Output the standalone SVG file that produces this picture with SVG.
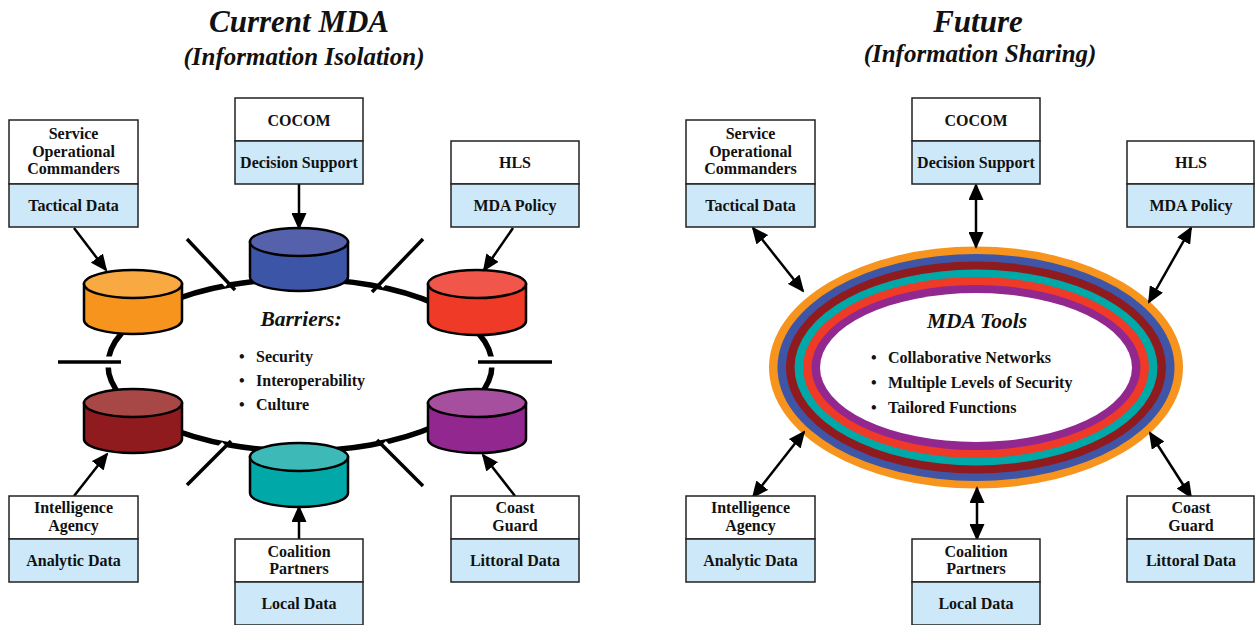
<svg xmlns="http://www.w3.org/2000/svg" width="1255" height="625" viewBox="0 0 1255 625">
<style>
text{font-family:"Liberation Serif","Times New Roman",serif;font-weight:bold;fill:#111;}
.title{font-style:italic;font-size:31px;text-anchor:middle;}
.sub{font-style:italic;font-size:25px;text-anchor:middle;}
.lbl{font-size:16px;text-anchor:middle;}
.head{font-style:italic;font-size:21.5px;text-anchor:middle;}
.bul{font-size:16px;}
.top{fill:#fff;stroke:#222;stroke-width:1.5;}
.bot{fill:#CDE9F9;stroke:#222;stroke-width:1.5;}
.cyl{stroke:#000;stroke-width:2.5;}
.ring{fill:none;stroke:#000;stroke-width:5.5;}
.gap{stroke:#fff;stroke-width:11;}
.bar{stroke:#000;stroke-width:3.5;}
.arr{stroke:#000;stroke-width:2.5;fill:none;marker-end:url(#ah);}
.arr2{stroke:#000;stroke-width:2.5;fill:none;marker-end:url(#ah);marker-start:url(#ah);}
</style>
<defs>
<marker id="ah" markerUnits="userSpaceOnUse" markerWidth="17" markerHeight="15" refX="15" refY="7.5" orient="auto-start-reverse">
<path d="M0,0 L17,7.5 L0,15 Z" fill="#000"/>
</marker>
</defs>
<rect width="1255" height="625" fill="#fff"/>

<!-- Titles -->
<g id="titles">
<text class="title" x="299" y="32">Current MDA</text>
<text class="sub" x="304" y="65">(Information Isolation)</text>
<text class="title" x="978" y="32">Future</text>
<text class="sub" x="980" y="62">(Information Sharing)</text>
</g>

<!-- Left ring -->
<g id="ring-left">
<ellipse class="ring" cx="300" cy="365" rx="192" ry="86"/>
</g>

<!-- Right ring -->
<g id="ring-right">
<ellipse cx="976" cy="367.5" rx="207" ry="121" fill="#F7941E"/>
<ellipse cx="976" cy="367.5" rx="198.5" ry="113.5" fill="#3F55A5"/>
<ellipse cx="976" cy="367.5" rx="190" ry="106" fill="#8F1B1E"/>
<ellipse cx="976" cy="367.5" rx="181.5" ry="98" fill="#00A9A8"/>
<ellipse cx="976" cy="367.5" rx="173" ry="90.5" fill="#EE3A26"/>
<ellipse cx="976" cy="367.5" rx="164.5" ry="82.5" fill="#92278F"/>
<ellipse cx="976" cy="367.5" rx="156" ry="74.5" fill="#fff"/>
<text class="head" x="977" y="328">MDA Tools</text>
<text class="bul" x="871" y="363">•</text><text class="bul" x="888" y="363">Collaborative Networks</text>
<text class="bul" x="871" y="388">•</text><text class="bul" x="888" y="388">Multiple Levels of Security</text>
<text class="bul" x="871" y="413">•</text><text class="bul" x="888" y="413">Tailored Functions</text>
</g>

<!-- Barrier text -->
<g id="barriers-text">
<text class="head" x="301" y="326">Barriers:</text>
<text class="bul" x="239" y="362">•</text><text class="bul" x="256" y="362">Security</text>
<text class="bul" x="239" y="386">•</text><text class="bul" x="256" y="386">Interoperability</text>
<text class="bul" x="239" y="410">•</text><text class="bul" x="256" y="410">Culture</text>
</g>

<!-- Barriers -->
<g id="barriers">
<line class="gap" x1="195" y1="247" x2="229" y2="283"/>
<line class="bar" x1="187" y1="239" x2="235" y2="290"/>
<line class="gap" x1="379" y1="284" x2="416" y2="246"/>
<line class="bar" x1="372" y1="292" x2="423" y2="239"/>
<line class="gap" x1="95" y1="362" x2="121" y2="362"/>
<line class="bar" x1="58" y1="362" x2="121" y2="362"/>
<line class="gap" x1="478" y1="362" x2="510" y2="362"/>
<line class="bar" x1="478" y1="362" x2="552" y2="362"/>
<line class="gap" x1="195" y1="477" x2="226" y2="446"/>
<line class="bar" x1="187" y1="485" x2="231" y2="441"/>
<line class="gap" x1="382" y1="445" x2="417" y2="480"/>
<line class="bar" x1="377" y1="440" x2="423" y2="486"/>
</g>

<!-- Cylinders -->
<g id="cyl-orange">
<path class="cyl" fill="#F7941E" d="M84,284 L84,320 A49,14 0 0 0 182,320 L182,284 Z"/>
<ellipse class="cyl" cx="133" cy="284" rx="49" ry="14" fill="#F9A942"/>
</g>
<g id="cyl-blue">
<path class="cyl" fill="#3D55A6" d="M250,242 L250,277 A49,14 0 0 0 348,277 L348,242 Z"/>
<ellipse class="cyl" cx="299" cy="242" rx="49" ry="14" fill="#5661AC"/>
</g>
<g id="cyl-red">
<path class="cyl" fill="#EE3A26" d="M428,284 L428,321 A49,14 0 0 0 526,321 L526,284 Z"/>
<ellipse class="cyl" cx="477" cy="284" rx="49" ry="14" fill="#F0564A"/>
</g>
<g id="cyl-darkred">
<path class="cyl" fill="#8F1B1E" d="M84,403 L84,439 A49,14 0 0 0 182,439 L182,403 Z"/>
<ellipse class="cyl" cx="133" cy="403" rx="49" ry="14" fill="#A84846"/>
</g>
<g id="cyl-teal">
<path class="cyl" fill="#00A9A8" d="M250,457 L250,493 A49,14 0 0 0 348,493 L348,457 Z"/>
<ellipse class="cyl" cx="299" cy="457" rx="49" ry="14" fill="#3DBAB8"/>
</g>
<g id="cyl-purple">
<path class="cyl" fill="#92278F" d="M428,403 L428,439 A49,14 0 0 0 526,439 L526,403 Z"/>
<ellipse class="cyl" cx="477" cy="403" rx="49" ry="14" fill="#A64F9E"/>
</g>

<!-- Connectors -->
<g id="connectors">
<line class="arr" x1="74" y1="228" x2="106" y2="270"/>
<line class="arr" x1="299" y1="184" x2="299" y2="228"/>
<line class="arr" x1="513" y1="228" x2="484" y2="270"/>
<line class="arr" x1="74" y1="496" x2="107" y2="454"/>
<line class="arr" x1="299" y1="539" x2="299" y2="507"/>
<line class="arr" x1="515" y1="496" x2="483" y2="455"/>
<line class="arr2" x1="753" y1="228" x2="803" y2="291"/>
<line class="arr2" x1="976" y1="185" x2="976" y2="247"/>
<line class="arr2" x1="1191" y1="228" x2="1149" y2="302"/>
<line class="arr2" x1="753" y1="497" x2="804" y2="432"/>
<line class="arr2" x1="977" y1="539" x2="977" y2="488"/>
<line class="arr2" x1="1191" y1="497" x2="1150" y2="433"/>
</g>

<!-- Left boxes -->
<g id="L-service">
<rect class="top" x="9" y="120" width="129" height="64"/>
<rect class="bot" x="9" y="184" width="129" height="43"/>
<text class="lbl" x="73.5" y="139">Service</text>
<text class="lbl" x="73.5" y="157">Operational</text>
<text class="lbl" x="73.5" y="174">Commanders</text>
<text class="lbl" x="73.5" y="211">Tactical Data</text>
</g>
<g id="L-cocom">
<rect class="top" x="235" y="98" width="128" height="43"/>
<rect class="bot" x="235" y="141" width="128" height="43"/>
<text class="lbl" x="299" y="126">COCOM</text>
<text class="lbl" x="299" y="168">Decision Support</text>
</g>
<g id="L-hls">
<rect class="top" x="451" y="141" width="128" height="43"/>
<rect class="bot" x="451" y="184" width="128" height="43"/>
<text class="lbl" x="515" y="168">HLS</text>
<text class="lbl" x="515" y="211">MDA Policy</text>
</g>
<g id="L-intel">
<rect class="top" x="9" y="496" width="129" height="43"/>
<rect class="bot" x="9" y="539" width="129" height="43"/>
<text class="lbl" x="73.5" y="513">Intelligence</text>
<text class="lbl" x="73.5" y="531">Agency</text>
<text class="lbl" x="73.5" y="566">Analytic Data</text>
</g>
<g id="L-coalition">
<rect class="top" x="235" y="539" width="128" height="43"/>
<rect class="bot" x="235" y="582" width="128" height="43"/>
<text class="lbl" x="299" y="557">Coalition</text>
<text class="lbl" x="299" y="574">Partners</text>
<text class="lbl" x="299" y="609">Local Data</text>
</g>
<g id="L-coast">
<rect class="top" x="451" y="496" width="128" height="43"/>
<rect class="bot" x="451" y="539" width="128" height="43"/>
<text class="lbl" x="515" y="513">Coast</text>
<text class="lbl" x="515" y="531">Guard</text>
<text class="lbl" x="515" y="566">Littoral Data</text>
</g>

<!-- Right boxes -->
<g id="R-service">
<rect class="top" x="686" y="120" width="129" height="64"/>
<rect class="bot" x="686" y="184" width="129" height="43"/>
<text class="lbl" x="750.5" y="139">Service</text>
<text class="lbl" x="750.5" y="157">Operational</text>
<text class="lbl" x="750.5" y="174">Commanders</text>
<text class="lbl" x="750.5" y="211">Tactical Data</text>
</g>
<g id="R-cocom">
<rect class="top" x="912" y="98" width="128" height="43"/>
<rect class="bot" x="912" y="141" width="128" height="43"/>
<text class="lbl" x="976" y="126">COCOM</text>
<text class="lbl" x="976" y="168">Decision Support</text>
</g>
<g id="R-hls">
<rect class="top" x="1127" y="141" width="127" height="43"/>
<rect class="bot" x="1127" y="184" width="127" height="43"/>
<text class="lbl" x="1191" y="168">HLS</text>
<text class="lbl" x="1191" y="211">MDA Policy</text>
</g>
<g id="R-intel">
<rect class="top" x="686" y="496" width="129" height="43"/>
<rect class="bot" x="686" y="539" width="129" height="43"/>
<text class="lbl" x="750.5" y="513">Intelligence</text>
<text class="lbl" x="750.5" y="531">Agency</text>
<text class="lbl" x="750.5" y="566">Analytic Data</text>
</g>
<g id="R-coalition">
<rect class="top" x="912" y="539" width="128" height="43"/>
<rect class="bot" x="912" y="582" width="128" height="43"/>
<text class="lbl" x="976" y="557">Coalition</text>
<text class="lbl" x="976" y="574">Partners</text>
<text class="lbl" x="976" y="609">Local Data</text>
</g>
<g id="R-coast">
<rect class="top" x="1127" y="496" width="127" height="43"/>
<rect class="bot" x="1127" y="539" width="127" height="43"/>
<text class="lbl" x="1191" y="513">Coast</text>
<text class="lbl" x="1191" y="531">Guard</text>
<text class="lbl" x="1191" y="566">Littoral Data</text>
</g>
</svg>
